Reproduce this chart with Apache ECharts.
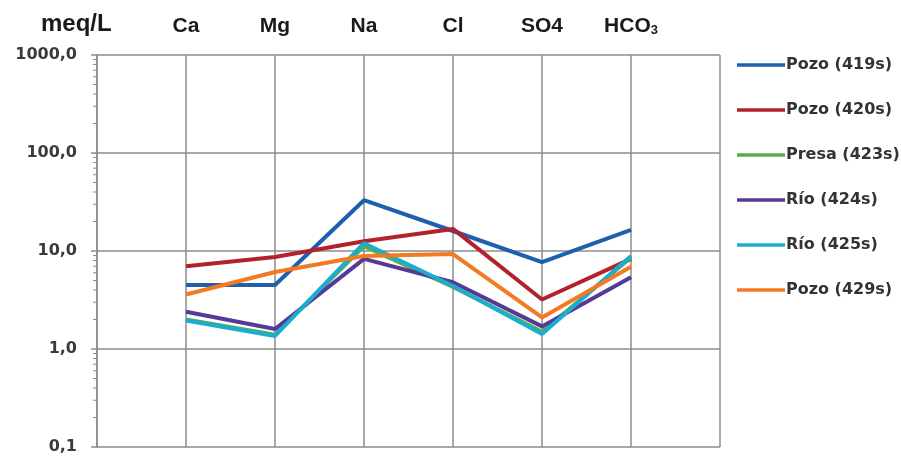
<!DOCTYPE html>
<html>
<head>
<meta charset="utf-8">
<script src="https://cdn.jsdelivr.net/npm/echarts@6/dist/echarts.min.js"></script>
<style>
  html, body { margin: 0; padding: 0; background: #ffffff; }
  #chart { width: 901px; height: 461px; }
</style>
</head>
<body>
<div id="chart"></div>
<script>
// Ions along the top axis; the empty ends give the plot its outer frame columns.
const ions = ['', 'Ca', 'Mg', 'Na', 'Cl', 'SO4', 'HCO3', ''];

// Concentrations in meq/L per sample (null = frame column, no value)
const pozo419 = [null, 4.5, 4.5, 33, 16, 7.7, 16.4, null];
const pozo420 = [null, 7.0, 8.7, 12.6, 16.8, 3.2, 8.3, null];
const presa423 = [null, 2.0, 1.4, 11.2, 4.3, 1.5, 8.6, null];
const rio424 = [null, 2.4, 1.6, 8.3, 4.8, 1.7, 5.4, null];
const rio425 = [null, 1.95, 1.36, 12.0, 4.4, 1.42, 8.9, null];
const pozo429 = [null, 3.6, 6.1, 8.9, 9.3, 2.1, 6.9, null];

const sampleNames = ['Pozo (419s)', 'Pozo (420s)', 'Presa (423s)', 'Río (424s)', 'Río (425s)', 'Pozo (429s)'];
const sampleValues = [pozo419, pozo420, presa423, rio424, rio425, pozo429];
const sampleColors = ['#1f5fae', '#b3222b', '#55b045', '#563a98', '#1badd0', '#f37a22'];

// Unit shown above the value axis
const unitLabel = 'meq/L';

// Log-axis range and the intermediate (2..9 x decade) tick values
const yMin = 0.1;
const yMax = 1000;
const minorTickValues = [
  0.2, 0.3, 0.4, 0.5, 0.6, 0.7, 0.8, 0.9,
  2, 3, 4, 5, 6, 7, 8, 9,
  20, 30, 40, 50, 60, 70, 80, 90,
  200, 300, 400, 500, 600, 700, 800, 900
];

const gridColor = '#8c8c8c';

const lineSeries = sampleNames.map((name, i) => ({
  name: name,
  type: 'line',
  data: sampleValues[i],
  symbol: 'none',
  connectNulls: false,
  lineStyle: { width: 4, color: sampleColors[i] },
  itemStyle: { color: sampleColors[i] },
  z: 3
}));

// Small ticks on the left axis line, placed through the log scale
const minorTickSeries = {
  name: 'minorTicks',
  type: 'custom',
  silent: true,
  z: 1,
  data: minorTickValues.map(v => [0, v]),
  renderItem: function (params, api) {
    const p = api.coord([0, api.value(1)]);
    return {
      type: 'line',
      shape: { x1: p[0] - 4, y1: p[1], x2: p[0], y2: p[1] },
      style: { stroke: gridColor, lineWidth: 1 }
    };
  }
};

const chart = echarts.init(document.getElementById('chart'), null, { renderer: 'canvas' });

chart.setOption({
  animation: false,
  backgroundColor: '#ffffff',
  title: {
    text: unitLabel,
    left: 41,
    top: 12,
    padding: 0,
    textStyle: {
      fontFamily: 'Liberation Sans',
      fontSize: 24,
      fontWeight: 'bold',
      color: '#1a1a1a'
    }
  },
  grid: { left: 97, right: 181, top: 55, bottom: 14, outerBoundsMode: 'none', containLabel: false },
  legend: {
    orient: 'vertical',
    left: 732,
    top: 52,
    data: sampleNames,
    icon: 'rect',
    itemWidth: 48,
    itemHeight: 3.5,
    itemGap: 29,
    textStyle: {
      fontFamily: 'DejaVu Sans',
      fontSize: 16,
      fontWeight: 'bold',
      color: '#333333',
      padding: [0, 0, 0, -4]
    }
  },
  xAxis: {
    type: 'category',
    position: 'top',
    data: ions,
    boundaryGap: false,
    axisLine: { show: false },
    axisTick: { show: false },
    axisLabel: {
      interval: 0,
      margin: 18,
      formatter: function (v) {
        if (v === 'HCO3') return '{b|HCO}{s|3}';
        return '{b|' + v + '}';
      },
      rich: {
        b: { fontFamily: 'Liberation Sans', fontSize: 21, fontWeight: 'bold', color: '#1a1a1a' },
        s: { fontFamily: 'Liberation Sans', fontSize: 13, fontWeight: 'bold', color: '#1a1a1a', padding: [9, 0, 0, 0] }
      }
    },
    splitLine: { show: true, interval: 0, lineStyle: { color: gridColor, width: 1.5 } }
  },
  yAxis: {
    type: 'log',
    logBase: 10,
    min: yMin,
    max: yMax,
    axisLine: { show: true, lineStyle: { color: gridColor, width: 1.5 } },
    axisTick: { show: true, length: 6, lineStyle: { color: gridColor, width: 1.5 } },
    axisLabel: {
      margin: 20,
      fontFamily: 'DejaVu Sans',
      fontSize: 16,
      fontWeight: 'bold',
      color: '#3a3a3a',
      formatter: function (v) { return Number(v).toFixed(1).replace('.', ','); }
    },
    splitLine: { show: true, lineStyle: { color: gridColor, width: 1.5 } }
  },
  series: [minorTickSeries].concat(lineSeries)
});
</script>
</body>
</html>
